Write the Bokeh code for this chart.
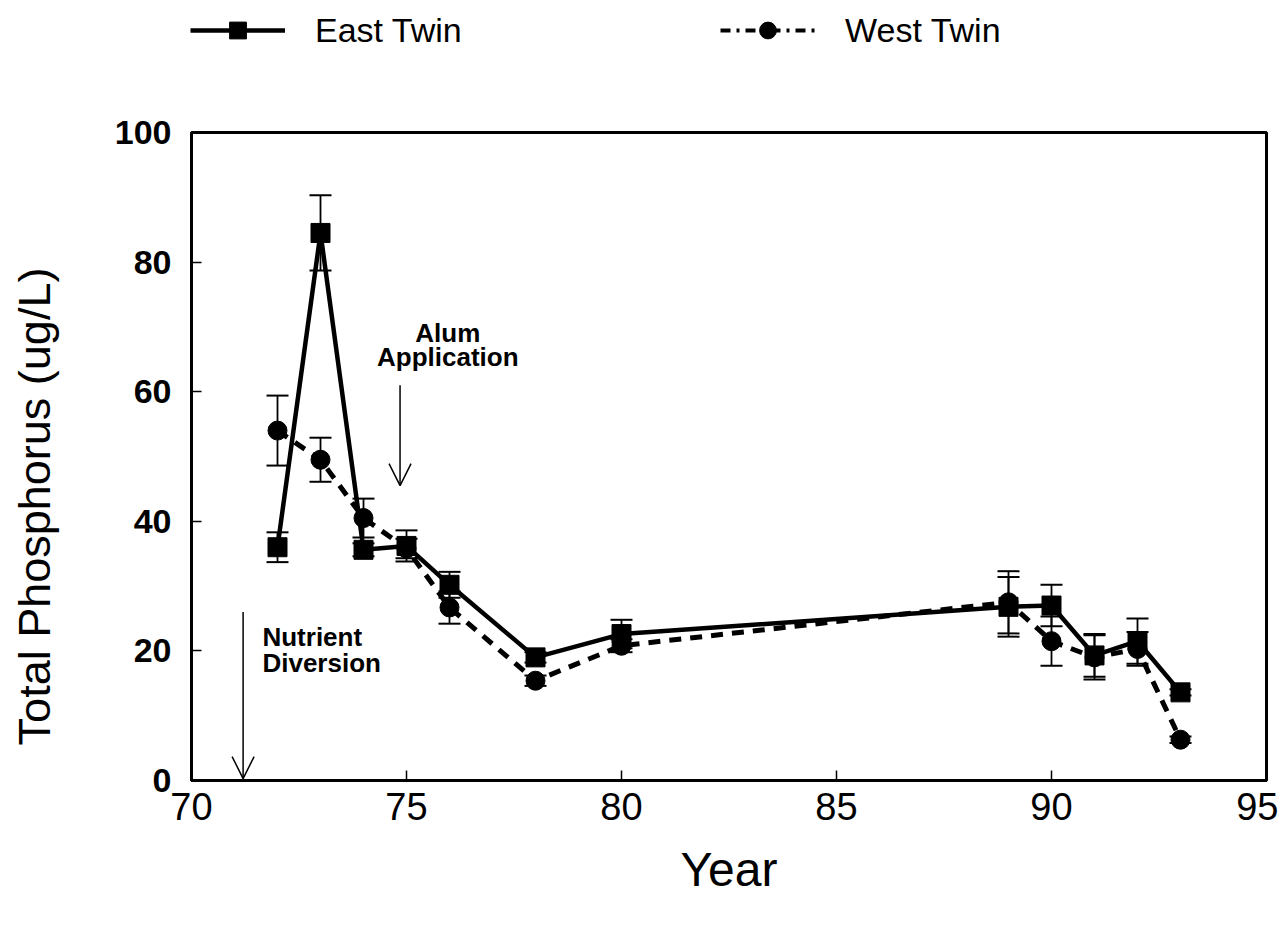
from bokeh.plotting import figure
from bokeh.layouts import column
from bokeh.models import (ColumnDataSource, Whisker, TeeHead, Arrow, OpenHead, Label,
                          Legend, LegendItem, FixedTicker)
from bokeh.embed import file_html
from bokeh.resources import INLINE

years = [72, 73, 74, 75, 76, 78, 80, 89, 90, 91, 92, 93]
east_tp = [36.0, 84.5, 35.6, 36.2, 30.2, 19.0, 22.6, 26.8, 27.0, 19.3, 21.5, 13.6]
east_err = [2.3, 5.8, 1.0, 2.4, 2.0, 0.8, 2.2, 4.6, 3.2, 3.3, 3.5, 0.5]
west_tp = [54.0, 49.5, 40.5, 35.8, 26.7, 15.4, 20.8, 27.5, 21.5, 19.0, 20.3, 6.3]
west_err = [5.4, 3.4, 3.0, 1.5, 2.5, 0.8, 1.0, 4.8, 3.8, 3.4, 2.6, 0.5]

x_ticks = [70, 75, 80, 85, 90, 95]
y_ticks = [0, 20, 40, 60, 80, 100]
series_names = ["East Twin", "West Twin"]

# events: (year, arrow top, arrow tip)
diversion_year, diversion_top, diversion_tip = 71.2, 26.0, 0.3
alum_year, alum_top, alum_tip = 74.85, 61.0, 45.5

east_src = ColumnDataSource(dict(
    x=years, y=east_tp,
    lo=[v - e for v, e in zip(east_tp, east_err)],
    hi=[v + e for v, e in zip(east_tp, east_err)]))
west_src = ColumnDataSource(dict(
    x=years, y=west_tp,
    lo=[v - e for v, e in zip(west_tp, west_err)],
    hi=[v + e for v, e in zip(west_tp, west_err)]))

p = figure(frame_width=1075, frame_height=648, x_range=(70, 95), y_range=(0, 100),
           output_backend="svg", toolbar_location=None,
           min_border_left=191, min_border_top=68, min_border_right=12, min_border_bottom=125)
p.background_fill_color = "white"
p.border_fill_color = "white"
p.grid.visible = False
p.outline_line_color = "black"
p.outline_line_width = 3

for ax in (p.xaxis[0], p.yaxis[0]):
    ax.axis_line_width = 3
    ax.major_tick_in = 10
    ax.major_tick_out = 0
    ax.major_tick_line_width = 1.5
    ax.minor_tick_line_color = None
    ax.major_label_text_color = "black"
    ax.axis_label_text_color = "black"
    ax.axis_label_text_font_style = "normal"

p.xaxis.ticker = FixedTicker(ticks=x_ticks)
p.yaxis.ticker = FixedTicker(ticks=y_ticks)
p.xaxis.major_label_text_font = "Liberation Sans"
p.xaxis.major_label_text_font_size = "38px"
p.xaxis.major_label_standoff = 12
p.yaxis.major_label_text_font = "Liberation Sans"
p.yaxis.major_label_text_font_size = "34px"
p.yaxis.major_label_text_font_style = "bold"
p.yaxis.major_label_standoff = 20

p.xaxis.axis_label = "Year"
p.xaxis.axis_label_text_font = "Liberation Sans"
p.xaxis.axis_label_text_font_size = "48px"
p.xaxis.axis_label_standoff = 20
p.yaxis.axis_label = "Total Phosphorus (ug/L)" + "\u00a0" * 8
p.yaxis.axis_label_text_font = "Liberation Sans"
p.yaxis.axis_label_text_font_size = "45px"
p.yaxis.axis_label_standoff = 52

# error bars
for src in (east_src, west_src):
    w = Whisker(source=src, base="x", upper="hi", lower="lo", dimension="height",
                line_color="black", line_width=1.8,
                upper_head=TeeHead(size=22, line_width=2, line_color="black"),
                lower_head=TeeHead(size=22, line_width=2, line_color="black"))
    p.add_layout(w)

east_style = dict(line_color="black", line_width=4.5)
west_style = dict(line_color="black", line_width=5, line_dash="12 9")

p.line("x", "y", source=east_src, **east_style)
p.line("x", "y", source=west_src, **west_style)
p.scatter("x", "y", source=west_src, marker="circle", size=19,
          fill_color="black", line_color="black")
p.scatter("x", "y", source=east_src, marker="square", size=19,
          fill_color="black", line_color="black")

# event arrows
p.add_layout(Arrow(x_start=diversion_year, y_start=diversion_top, x_end=diversion_year,
                   y_end=diversion_tip, line_width=1.5, line_color="black",
                   end=OpenHead(size=22, line_width=1.5, line_color="black")))
p.add_layout(Arrow(x_start=alum_year, y_start=alum_top, x_end=alum_year,
                   y_end=alum_tip, line_width=1.5, line_color="black",
                   end=OpenHead(size=22, line_width=1.5, line_color="black")))

for txt, x, y, align in [("Nutrient", 71.65, 22.1, "left"), ("Diversion", 71.65, 18.2, "left"),
                         ("Alum", 75.96, 69.1, "center"), ("Application", 75.96, 65.3, "center")]:
    p.add_layout(Label(x=x, y=y, text=txt, text_font="Liberation Sans", text_font_size="26px",
                       text_font_style="bold", text_align=align, text_baseline="middle",
                       text_color="black"))

# legend strip above the plot (its renderers use the real data, outside its view)
lg = figure(frame_width=1278, frame_height=64, x_range=(0, 1), y_range=(0, 1),
            output_backend="svg", toolbar_location=None,
            min_border_left=0, min_border_right=0, min_border_top=0, min_border_bottom=0)
lg.axis.visible = False
lg.grid.visible = False
lg.outline_line_color = None
lg.background_fill_color = "white"
lg.border_fill_color = "white"
e_line = lg.line("x", "y", source=east_src, **east_style)
e_pts = lg.scatter("x", "y", source=east_src, marker="square",
                   fill_color="black", line_color="black")
w_line = lg.line("x", "y", source=west_src, line_color="black",
                 line_width=4, line_dash="10 6 3 6")
w_pts = lg.scatter("x", "y", source=west_src, marker="circle",
                   fill_color="black", line_color="black")
legend = Legend(items=[LegendItem(label=series_names[0], renderers=[e_line, e_pts]),
                       LegendItem(label=series_names[1], renderers=[w_line, w_pts])],
                orientation="horizontal", location=(190, 13),
                glyph_width=95, glyph_height=42, label_standoff=30, label_width=405,
                spacing=0, padding=0, margin=0,
                border_line_color=None, background_fill_alpha=0,
                label_text_font="Liberation Sans", label_text_font_size="34px",
                label_text_color="black")
lg.add_layout(legend)

layout = column(lg, p, spacing=0)
open("out.html", "w").write(file_html(layout, INLINE))
